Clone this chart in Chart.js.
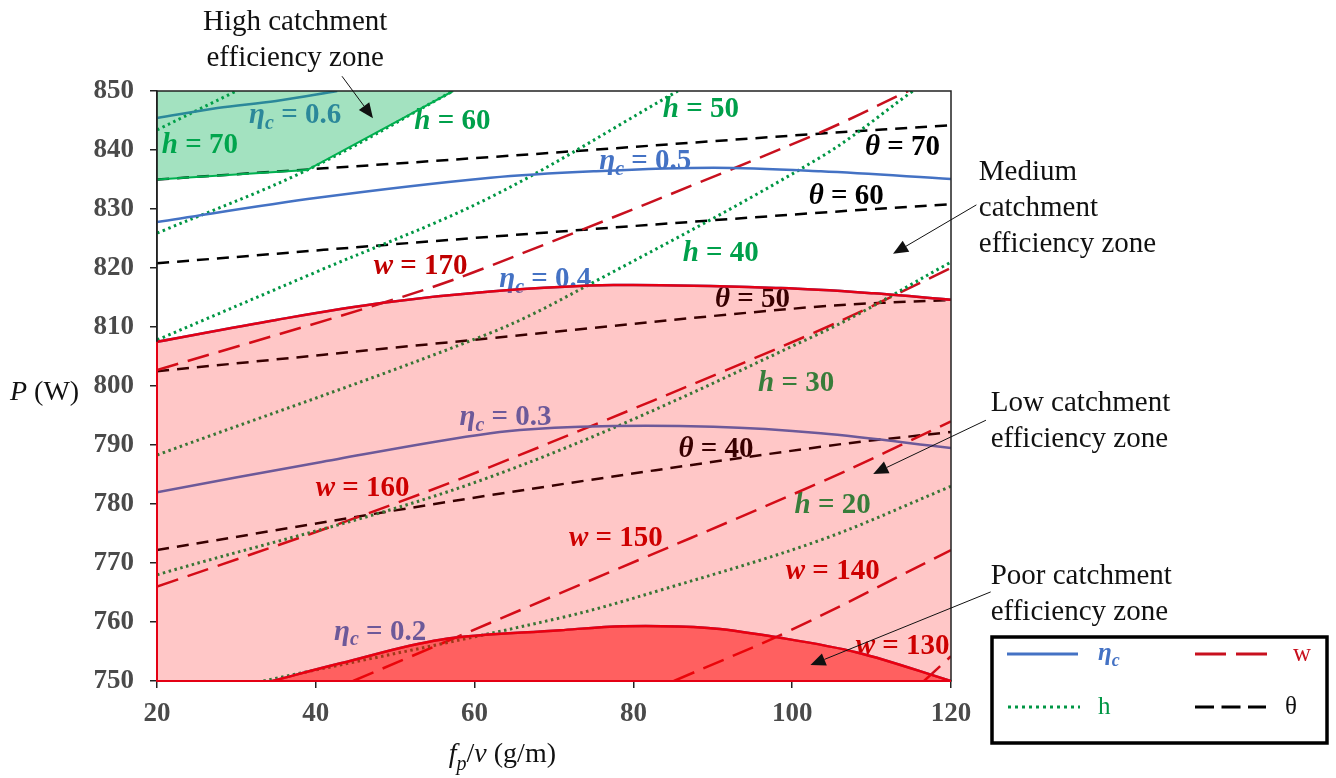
<!DOCTYPE html>
<html>
<head>
<meta charset="utf-8">
<script src="https://cdn.jsdelivr.net/npm/chart.js@4.4.1/dist/chart.umd.min.js"></script>
<style>
  html, body { margin: 0; padding: 0; background: #fff; }
  canvas { display: block; }
</style>
</head>
<body>
<canvas id="chart" width="1336" height="778"></canvas>
<script>
// x: fp/v (g/m), y: P (W)
const xTicks = [20, 40, 60, 80, 100, 120];
const yTicks = [750, 760, 770, 780, 790, 800, 810, 820, 830, 840, 850];

// catchment efficiency contours (eta_c)
const eta06X = [20, 27.6, 35, 42.7];
const eta06Y = [845.4, 847.1, 848.3, 850];
const eta05X = [20, 40.2, 62, 75, 90.1, 103.6, 120];
const eta05Y = [827.8, 831.9, 835.3, 836.4, 837, 836.4, 835.1];
const eta04X = [20, 35, 48.5, 62, 77.5, 98.6, 110.3, 120];
const eta04Y = [807.5, 811.2, 814.1, 816, 817.1, 816.6, 815.7, 814.6];
const eta03X = [20, 40.2, 62, 73.3, 90.1, 103.6, 120];
const eta03Y = [782, 787, 792, 793.1, 793.1, 792, 789.5];
const eta02X = [34.5, 43.1, 55.7, 70.8, 78.8, 89.4, 97.7, 108.3, 120];
const eta02Y = [750, 753, 757, 758.6, 759.3, 759, 757.5, 754.8, 750];

// h contours
const h70X = [20, 30];
const h70Y = [843.4, 850];
const h60X = [20, 38.9, 57.3];
const h60Y = [825.9, 836.6, 850];
const h50X = [20, 40, 62, 85.6];
const h50Y = [807.8, 819.3, 832, 850];
const h40X = [20, 62, 75, 103.6, 115.2];
const h40Y = [788.3, 809, 817.6, 838.8, 850];
const h30X = [20, 62, 103.6, 120];
const h30Y = [768, 784.6, 809, 821];
const h20X = [33.4, 70.8, 83.4, 103.6, 120];
const h20Y = [750, 760.7, 765.4, 773.9, 783];

// w contours
const w170X = [20, 48.5, 60.7, 102.7, 114.6];
const w170Y = [802.7, 814.1, 819.7, 842.5, 850];
const w160X = [20, 44.3, 62, 102.7, 120];
const w160Y = [766, 777.3, 786.3, 809, 820];
const w150X = [44.7, 70.8, 103.6, 120];
const w150Y = [750, 764.9, 783.7, 794];
const w140X = [85.1, 99.8, 120];
const w140Y = [750, 758.6, 772.2];
const w130X = [116.6, 120];
const w130Y = [750, 754.2];

// theta contours
const th70X = [20, 62, 102.7, 120];
const th70Y = [835, 838.8, 842.7, 844.2];
const th60X = [20, 62, 102.7, 120];
const th60Y = [820.8, 825.3, 829.3, 830.8];
const th50X = [20, 62, 102.7, 120];
const th50Y = [802.5, 808.1, 813.4, 814.6];
const th40X = [20, 62, 103.6, 120];
const th40Y = [772.2, 781.5, 789.7, 792.2];

// high catchment zone edge (filled up to 850)
const highZoneX = [20, 38.9, 57.3];
const highZoneY = [835, 836.6, 850];

const SERIF = "'Liberation Serif', 'Times New Roman', serif";
const BLUE = '#4472C4';
const GREEN = 'rgb(0,150,68)';
const DARKRED = 'rgb(200,16,30)';

function pts(xs, ys) {
  return xs.map((x, i) => ({ x: x, y: ys[i] }));
}

function contour(xs, ys, color, dash, width) {
  return {
    data: pts(xs, ys),
    borderColor: color,
    borderWidth: width || 2.5,
    borderDash: dash,
    pointRadius: 0,
    fill: false,
    tension: 0.35,
    order: 1
  };
}

const etaDash = [];
const hDash = [2.5, 3.5];
const wDash = [22, 10];
const thDash = [12, 8];

const datasets = [
  // zones, drawn last so they tint what is under them
  { data: pts(highZoneX, highZoneY), borderColor: 'rgb(0,176,80)', borderWidth: 2,
    backgroundColor: 'rgba(0,176,80,0.36)', fill: 'end', pointRadius: 0, tension: 0, order: 0 },
  { data: pts(eta04X, eta04Y), borderColor: 'rgb(228,0,20)', borderWidth: 2.5,
    backgroundColor: 'rgba(255,0,0,0.22)', fill: 'start', pointRadius: 0,
    tension: 0.35, order: 0 },
  { data: pts(eta02X, eta02Y), borderColor: 'rgb(228,0,20)', borderWidth: 2.5,
    backgroundColor: 'rgba(255,0,0,0.52)', fill: 'start', pointRadius: 0,
    tension: 0.35, order: 0 },

  contour(eta06X, eta06Y, BLUE, etaDash),
  contour(eta05X, eta05Y, BLUE, etaDash),
  contour(eta04X, eta04Y, BLUE, etaDash),
  contour(eta03X, eta03Y, BLUE, etaDash),
  contour(eta02X, eta02Y, BLUE, etaDash),

  contour(h70X, h70Y, GREEN, hDash, 3),
  contour(h60X, h60Y, GREEN, hDash, 3),
  contour(h50X, h50Y, GREEN, hDash, 3),
  contour(h40X, h40Y, GREEN, hDash, 3),
  contour(h30X, h30Y, GREEN, hDash, 3),
  contour(h20X, h20Y, GREEN, hDash, 3),

  contour(w170X, w170Y, DARKRED, wDash),
  contour(w160X, w160Y, DARKRED, wDash),
  contour(w150X, w150Y, DARKRED, wDash),
  contour(w140X, w140Y, DARKRED, wDash),
  contour(w130X, w130Y, DARKRED, wDash),

  contour(th70X, th70Y, '#000', thDash),
  contour(th60X, th60Y, '#000', thDash),
  contour(th50X, th50Y, '#000', thDash),
  contour(th40X, th40Y, '#000', thDash)
];

// contour labels (centre of text, in data units)
const curveLabels = [
  { sym: 'eta', val: '0.6', x: 37.4, y: 845.8 },
  { sym: 'h', val: '70', x: 25.4, y: 840.8 },
  { sym: 'h', val: '60', x: 57.2, y: 844.9 },
  { sym: 'h', val: '50', x: 88.5, y: 846.8 },
  { sym: 'eta', val: '0.5', x: 81.5, y: 838.1 },
  { sym: 'theta', val: '70', x: 113.9, y: 840.5 },
  { sym: 'theta', val: '60', x: 106.8, y: 832.2 },
  { sym: 'w', val: '170', x: 53.2, y: 820.3 },
  { sym: 'h', val: '40', x: 91, y: 822.5 },
  { sym: 'eta', val: '0.4', x: 68.9, y: 818.1 },
  { sym: 'theta', val: '50', x: 95, y: 814.7 },
  { sym: 'h', val: '30', x: 100.5, y: 800.5 },
  { sym: 'eta', val: '0.3', x: 63.9, y: 794.6 },
  { sym: 'theta', val: '40', x: 90.4, y: 789.3 },
  { sym: 'w', val: '160', x: 45.9, y: 782.7 },
  { sym: 'h', val: '20', x: 105.1, y: 779.8 },
  { sym: 'w', val: '150', x: 77.8, y: 774.2 },
  { sym: 'w', val: '140', x: 105.1, y: 768.5 },
  { sym: 'eta', val: '0.2', x: 48.1, y: 758.3 },
  { sym: 'w', val: '130', x: 113.9, y: 755.8 }
];

// zone notes: first baseline position and arrow, in data units
const zoneNotes = [
  { lines: ['High catchment', 'efficiency zone'], x: 37.4, y: 860.3, align: 'center',
    from: [43.3, 852.5], to: [47.2, 845.4] },
  { lines: ['Medium', 'catchment', 'efficiency zone'], x: 123.5, y: 834.9, align: 'left',
    from: [123.2, 830.7], to: [112.7, 822.4] },
  { lines: ['Low catchment', 'efficiency zone'], x: 125, y: 795.8, align: 'left',
    from: [124.4, 794.2], to: [110.2, 785.1] },
  { lines: ['Poor catchment', 'efficiency zone'], x: 125, y: 766.4, align: 'left',
    from: [125, 765.1], to: [102.3, 752.7] }
];

const symText = { eta: 'η', h: 'h', w: 'w', theta: 'θ' };
const symColor = { eta: BLUE, h: 'rgb(0,160,75)', w: 'rgb(192,0,0)', theta: '#000' };

function drawParts(ctx, parts, x, y, size, align) {
  let total = 0;
  parts.forEach(p => {
    ctx.font = (p.f || '') + ' ' + (p.sub ? Math.round(size * 0.7) : size) + 'px ' + SERIF;
    p.w = ctx.measureText(p.t).width;
    total += p.w;
  });
  let cx = align === 'center' ? x - total / 2 : x;
  parts.forEach(p => {
    ctx.font = (p.f || '') + ' ' + (p.sub ? Math.round(size * 0.7) : size) + 'px ' + SERIF;
    ctx.fillText(p.t, cx, y + (p.sub ? size * 0.28 : 0));
    cx += p.w;
  });
}

function arrow(ctx, x1, y1, x2, y2) {
  const a = Math.atan2(y2 - y1, x2 - x1);
  const len = 15, half = 6.5;
  const bx = x2 - len * Math.cos(a), by = y2 - len * Math.sin(a);
  ctx.beginPath();
  ctx.moveTo(x1, y1);
  ctx.lineTo(bx, by);
  ctx.stroke();
  ctx.beginPath();
  ctx.moveTo(x2, y2);
  ctx.lineTo(bx + half * Math.sin(a), by - half * Math.cos(a));
  ctx.lineTo(bx - half * Math.sin(a), by + half * Math.cos(a));
  ctx.closePath();
  ctx.fill();
}

const labelPlugin = {
  id: 'curveLabels',
  beforeDatasetsDraw(chart) {
    const { ctx, scales: { x, y } } = chart;
    ctx.save();
    ctx.textBaseline = 'middle';
    curveLabels.forEach(l => {
      const parts = [{ t: symText[l.sym], f: 'bold italic' }];
      if (l.sym === 'eta') parts.push({ t: 'c', f: 'bold italic', sub: true });
      parts.push({ t: ' = ' + l.val, f: 'bold' });
      ctx.fillStyle = symColor[l.sym];
      drawParts(ctx, parts, x.getPixelForValue(l.x), y.getPixelForValue(l.y), 29, 'center');
    });
    ctx.restore();
  }
};

const framePlugin = {
  id: 'frame',
  afterDatasetsDraw(chart) {
    const { ctx, chartArea: a, scales: { x, y } } = chart;
    ctx.save();
    ctx.strokeStyle = '#222';
    ctx.lineWidth = 1.5;
    ctx.strokeRect(a.left, a.top, a.right - a.left, a.bottom - a.top);
    // red edges of the low-efficiency region
    ctx.strokeStyle = 'rgb(228,0,20)';
    ctx.lineWidth = 2;
    ctx.beginPath();
    ctx.moveTo(a.left, y.getPixelForValue(eta04Y[0]));
    ctx.lineTo(a.left, a.bottom);
    ctx.lineTo(a.right, a.bottom);
    ctx.stroke();
    ctx.restore();
  },
  afterDraw(chart) {
    const { ctx, chartArea: a, scales: { x, y } } = chart;
    ctx.save();
    // axis titles
    ctx.fillStyle = '#111';
    ctx.textBaseline = 'alphabetic';
    drawParts(ctx, [{ t: 'P', f: 'italic' }, { t: ' (W)' }], 10, (a.top + a.bottom) / 2 + 14, 28, 'left');
    drawParts(ctx, [{ t: 'f', f: 'italic' }, { t: 'p', f: 'italic', sub: true }, { t: '/' },
      { t: 'v', f: 'italic' }, { t: ' (g/m)' }], x.getPixelForValue(63.5), a.bottom + 81, 28, 'center');

    // zone notes
    ctx.font = '29px ' + SERIF;
    ctx.fillStyle = '#111';
    ctx.strokeStyle = '#111';
    ctx.lineWidth = 1;
    zoneNotes.forEach(n => {
      ctx.textAlign = n.align;
      const px = x.getPixelForValue(n.x), py = y.getPixelForValue(n.y);
      n.lines.forEach((t, i) => ctx.fillText(t, px, py + i * 36));
      arrow(ctx, x.getPixelForValue(n.from[0]), y.getPixelForValue(n.from[1]),
        x.getPixelForValue(n.to[0]), y.getPixelForValue(n.to[1]));
    });
    ctx.textAlign = 'left';

    // legend box
    const L = 992, T = 637, R = 1327, B = 743;
    ctx.lineWidth = 3.5;
    ctx.strokeStyle = '#000';
    ctx.strokeRect(L, T, R - L, B - T);
    const rows = [T + 17, T + 70];
    const items = [
      { x1: 1007, x2: 1078, row: 0, color: BLUE, dash: [], parts: [{ t: 'η', f: 'bold italic' }, { t: 'c', f: 'bold italic', sub: true }], tx: 1098 },
      { x1: 1195, x2: 1268, row: 0, color: DARKRED, dash: [31, 10], parts: [{ t: 'w' }], tx: 1293 },
      { x1: 1008, x2: 1080, row: 1, color: GREEN, dash: [3, 4], parts: [{ t: 'h' }], tx: 1098 },
      { x1: 1195, x2: 1266, row: 1, color: '#000', dash: [19, 7.5], parts: [{ t: 'θ' }], tx: 1285 }
    ];
    items.forEach(it => {
      const yy = rows[it.row];
      ctx.beginPath();
      ctx.setLineDash(it.dash);
      ctx.lineWidth = 3;
      ctx.strokeStyle = it.color;
      ctx.moveTo(it.x1, yy);
      ctx.lineTo(it.x2, yy);
      ctx.stroke();
      ctx.setLineDash([]);
      ctx.fillStyle = it.color === '#000' ? '#111' : it.color;
      ctx.textBaseline = 'middle';
      drawParts(ctx, it.parts, it.tx, yy, 25, 'left');
    });
    ctx.restore();
  }
};

new Chart(document.getElementById('chart'), {
  type: 'line',
  data: { datasets: datasets },
  options: {
    responsive: false,
    animation: false,
    devicePixelRatio: 1,
    layout: { padding: { top: 91, right: 385, left: 0, bottom: 0 } },
    plugins: {
      legend: { display: false },
      tooltip: { enabled: false }
    },
    scales: {
      x: {
        type: 'linear',
        min: xTicks[0],
        max: xTicks[xTicks.length - 1],
        afterBuildTicks: s => { s.ticks = xTicks.map(v => ({ value: v })); },
        afterFit: s => { s.height = 97; },
        ticks: { color: '#4a4a4a', padding: 10, font: { family: SERIF, size: 27, weight: 'bold' } },
        grid: { drawOnChartArea: false, drawTicks: true, tickLength: 7, color: '#222', lineWidth: 1.5 },
        border: { display: true, color: '#222', width: 1.5 }
      },
      y: {
        type: 'linear',
        min: yTicks[0],
        max: yTicks[yTicks.length - 1],
        afterBuildTicks: s => { s.ticks = yTicks.map(v => ({ value: v })); },
        afterFit: s => { s.width = 157; },
        ticks: { color: '#4a4a4a', padding: 16, font: { family: SERIF, size: 27, weight: 'bold' } },
        grid: { drawOnChartArea: false, drawTicks: true, tickLength: 7, color: '#222', lineWidth: 1.5 },
        border: { display: true, color: '#222', width: 1.5 }
      }
    }
  },
  plugins: [labelPlugin, framePlugin]
});
</script>
</body>
</html>
